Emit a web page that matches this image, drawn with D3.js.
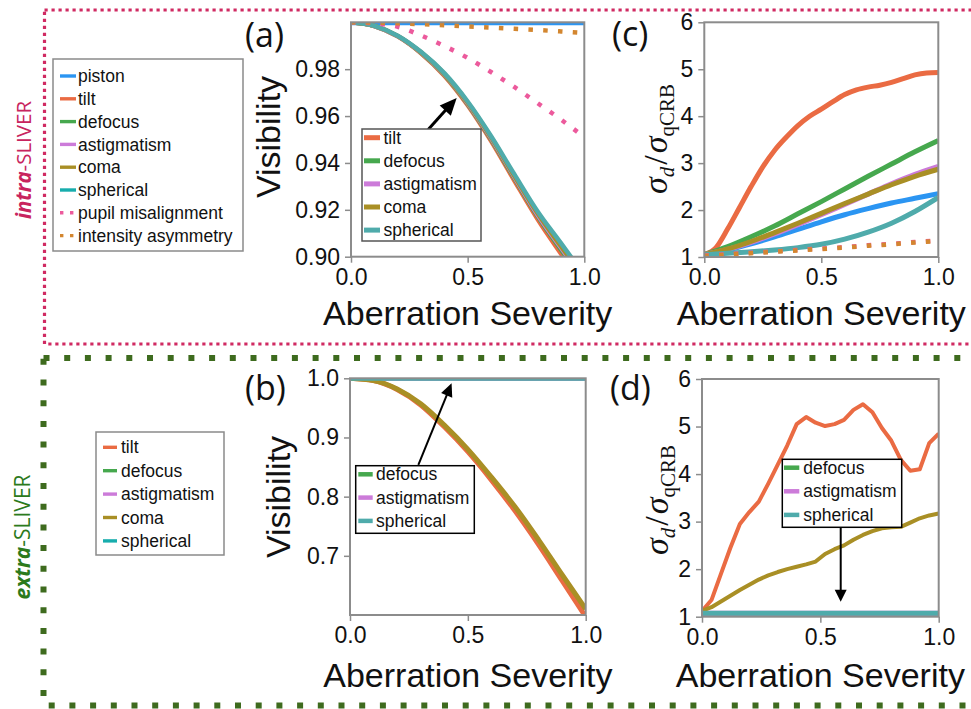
<!DOCTYPE html>
<html><head><meta charset="utf-8">
<script src="https://cdn.jsdelivr.net/npm/d3@7"></script>
<style>body{margin:0;background:#fff}svg{display:block}</style>
</head><body>
<svg id="fig" width="971" height="709"></svg>
<script>
// ---------------- DATA ----------------
const sev10 = [0,0.1,0.2,0.3,0.4,0.5,0.6,0.7,0.8,0.9,1.0];
const sev20 = [0,0.05,0.1,0.15,0.2,0.25,0.3,0.35,0.4,0.45,0.5,0.55,0.6,0.65,0.7,0.75,0.8,0.85,0.9,0.95,1.0];
const sev25 = [0,0.04,0.08,0.12,0.16,0.2,0.24,0.28,0.32,0.36,0.4,0.44,0.48,0.52,0.56,0.6,0.64,0.68,0.72,0.76,0.8,0.84,0.88,0.92,0.96,1.0];

// (a) intra-SLIVER visibility
const aPiston     = [0.9994,0.9994,0.9994,0.9994,0.9994,0.9994,0.9994,0.9994,0.9994,0.9994,0.9994];
const aTilt       = [1.0,0.9984,0.9940,0.9868,0.9772,0.9646,0.9494,0.9325,0.9160,0.9013,0.887];
const aDefocus    = [1.0,0.9984,0.9941,0.9870,0.9776,0.9652,0.9502,0.9335,0.9172,0.9030,0.889];
const aAstig      = [1.0,0.9984,0.9941,0.9871,0.9778,0.9655,0.9506,0.9340,0.9178,0.9038,0.890];
const aComa       = [1.0,0.9985,0.9942,0.9872,0.9780,0.9658,0.9510,0.9345,0.9185,0.9045,0.891];
const aSpherical  = [1.0,0.9985,0.9943,0.9874,0.9783,0.9662,0.9515,0.9352,0.9193,0.9058,0.892];
const aPupil      = [1.0,0.9995,0.9981,0.9944,0.9899,0.9848,0.9788,0.9724,0.9655,0.9585,0.951];
const aIntensity  = [1.0,0.9999,0.9996,0.9992,0.9987,0.9982,0.9977,0.9972,0.9967,0.9961,0.9955];

// (c) intra-SLIVER sigma ratio
const cPiston     = [1.05,1.15,1.28,1.43,1.59,1.75,1.90,2.03,2.15,2.25,2.35];
const cTilt       = [1.05,1.2,1.6,2.05,2.5,2.92,3.27,3.55,3.8,4.0,4.15,4.31,4.46,4.56,4.62,4.66,4.72,4.8,4.88,4.92,4.93];
const cDefocus    = [1.05,1.22,1.43,1.66,1.92,2.18,2.45,2.72,2.98,3.24,3.48];
const cAstig      = [1.05,1.16,1.31,1.49,1.69,1.90,2.12,2.34,2.56,2.76,2.93];
const cComa       = [1.05,1.17,1.33,1.52,1.72,1.93,2.14,2.34,2.54,2.72,2.87];
const cSpherical  = [1.05,1.08,1.11,1.15,1.20,1.27,1.38,1.53,1.72,1.97,2.27];
const cPupil      = [1.03,1.06,1.09,1.12,1.15,1.18,1.21,1.25,1.28,1.32,1.35];
const cIntensity  = [1.02,1.05,1.08,1.11,1.14,1.17,1.20,1.24,1.27,1.31,1.34];

// (b) extra-SLIVER visibility
const bTilt       = [1.0,0.996,0.981,0.955,0.918,0.876,0.828,0.776,0.719,0.658,0.597];
const bDefocus    = [0.9985,0.9985,0.9985,0.9985,0.9985,0.9985,0.9985,0.9985,0.9985,0.9985,0.9985];
const bAstig      = [0.9985,0.9985,0.9985,0.9985,0.9985,0.9985,0.9985,0.9985,0.9985,0.9985,0.9985];
const bComa       = [1.0,0.996,0.982,0.957,0.921,0.880,0.833,0.783,0.727,0.668,0.610];
const bSpherical  = [0.9985,0.9985,0.9985,0.9985,0.9985,0.9985,0.9985,0.9985,0.9985,0.9985,0.9985];

// (d) extra-SLIVER sigma ratio
const dTilt       = [1.12,1.35,1.9,2.45,2.95,3.2,3.42,3.8,4.2,4.6,5.05,5.2,5.08,5.01,5.05,5.14,5.35,5.47,5.3,4.97,4.7,4.3,4.07,4.1,4.65,4.85];
const dDefocus    = [1.06,1.06,1.06,1.06,1.06,1.06,1.06,1.06,1.06,1.06,1.06];
const dAstig      = [1.07,1.07,1.07,1.07,1.07,1.07,1.07,1.07,1.07,1.07,1.07];
const dComa       = [1.12,1.2,1.32,1.44,1.56,1.67,1.78,1.87,1.94,2.0,2.05,2.1,2.16,2.32,2.42,2.5,2.62,2.72,2.8,2.86,2.88,2.89,2.98,3.07,3.13,3.17];
const dSpherical  = [1.075,1.075,1.075,1.075,1.075,1.075,1.075,1.075,1.075,1.075,1.075];

// tick values / labels
const xTicks = [0, 0.5, 1.0];
const visTicksA = [0.90,0.92,0.94,0.96,0.98];
const visTicksB = [0.7,0.8,0.9,1.0];
const ratioTicks = [1,2,3,4,5,6];
const legendTopNames = ["piston","tilt","defocus","astigmatism","coma","spherical","pupil misalignment","intensity asymmetry"];
const legendBotNames = ["tilt","defocus","astigmatism","coma","spherical"];
const legendANames = ["tilt","defocus","astigmatism","coma","spherical"];
const legendBDNames = ["defocus","astigmatism","spherical"];

// ---------------- STYLE ----------------
const COL = {piston:"#2b95f2", tilt:"#ea6b43", defocus:"#46a84e", astigmatism:"#cc7bd9",
  coma:"#a98f25", spherical:"#4fabab", "pupil misalignment":"#ec5a9c", "intensity asymmetry":"#d3862f"};
const LCOL = Object.assign({}, COL, {spherical:"#17adad"});
const DOTTED = new Set(["pupil misalignment","intensity asymmetry"]);
const SANS = "'Liberation Sans', Arial, Helvetica, sans-serif";

const svg = d3.select("#fig");

// ---------------- BORDERS ----------------
svg.append("rect").attr("x",44.5).attr("y",10).attr("width",960).attr("height",334)
  .attr("fill","none").attr("stroke","#d02a62").attr("stroke-width",3.2).attr("stroke-dasharray","3.2,3.8");
svg.append("rect").attr("x",43.5).attr("y",358).attr("width",960).attr("height",347.5)
  .attr("fill","none").attr("stroke","#3e6b1e").attr("stroke-width",6).attr("stroke-dasharray","6,14.7");

// side labels
svg.append("text").attr("transform","translate(31,160) rotate(-90)").attr("text-anchor","middle")
  .attr("font-family","'Open Sans', sans-serif").attr("font-size",20.5).attr("fill","#c8245e")
  .call(t=>{t.append("tspan").attr("font-weight","bold").attr("font-style","italic").text("intra");
            t.append("tspan").text("-SLIVER");});
svg.append("text").attr("transform","translate(30,537) rotate(-90)").attr("text-anchor","middle")
  .attr("font-family","'Open Sans', sans-serif").attr("font-size",21).attr("fill","#2c7a1c")
  .call(t=>{t.append("tspan").attr("font-weight","bold").attr("font-style","italic").text("extra");
            t.append("tspan").text("-SLIVER");});

// ---------------- PANEL ----------------
let clipN = 0;
function panel(cfg){
  const x = d3.scaleLinear().domain([0,1]).range([cfg.x0,cfg.x1]);
  const y = d3.scaleLinear().domain(cfg.yDomain).range([cfg.y1,cfg.y0]);
  const g = svg.append("g");
  const id = "clip"+(clipN++);
  g.append("clipPath").attr("id",id).append("rect")
    .attr("x",cfg.x0).attr("y",cfg.y0).attr("width",cfg.x1-cfg.x0).attr("height",cfg.y1-cfg.y0);
  const lg = g.append("g").attr("clip-path",`url(#${id})`);
  cfg.series.forEach(s=>{
    const line = d3.line().x(d=>x(d[0])).y(d=>y(d[1])).curve(cfg.curve||d3.curveMonotoneX);
    const p = lg.append("path").datum(d3.zip(s.xs,s.v)).attr("d",line)
      .attr("fill","none").attr("stroke",COL[s.name]).attr("stroke-width",s.w||cfg.lw)
      .attr("stroke-linejoin","round");
    if (DOTTED.has(s.name)) p.attr("stroke-dasharray","4.5,10.3").attr("stroke-width",4.5);
    else p.attr("stroke-linecap","butt");
  });
  // frame
  g.append("rect").attr("x",cfg.x0).attr("y",cfg.y0).attr("width",cfg.x1-cfg.x0).attr("height",cfg.y1-cfg.y0)
    .attr("fill","none").attr("stroke","#8c8c8c").attr("stroke-width",2);
  // axes
  const ax = g.append("g").attr("transform",`translate(${cfg.x0},0)`)
    .call(d3.axisLeft(y).tickValues(cfg.yTicks).tickFormat(cfg.yFmt).tickSize(6).tickPadding(5));
  const bx = g.append("g").attr("transform",`translate(0,${cfg.y1})`)
    .call(d3.axisBottom(x).tickValues(xTicks).tickFormat(d3.format(".1f")).tickSize(6).tickPadding(6));
  [ax,bx].forEach(a=>{
    a.select(".domain").remove();
    a.selectAll(".tick line").attr("stroke","#8c8c8c").attr("stroke-width",1.5);
    a.selectAll(".tick text").attr("font-family",SANS).attr("font-size",23).attr("fill","#111");
  });
  // x label
  g.append("text").attr("x",(cfg.x0+cfg.x1)/2).attr("y",cfg.xlabY).attr("text-anchor","middle")
    .attr("font-family",SANS).attr("font-size",34).attr("fill","#111").text("Aberration Severity");
  // panel tag
  g.append("text").attr("x",cfg.tagX).attr("y",cfg.tagY).attr("font-family","'Open Sans', sans-serif")
    .attr("font-size",34).attr("fill","#111").text(cfg.tag);
  // y label
  if (cfg.ylab === "vis") {
    g.append("text").attr("transform",`translate(${cfg.ylabX},${cfg.ylabY}) rotate(-90)`).attr("text-anchor","middle")
      .attr("font-family",SANS).attr("font-size",34).attr("fill","#111").text("Visibility");
  } else {
    const t = g.append("text").attr("transform",`translate(${cfg.ylabX},${cfg.ylabY}) rotate(-90)`)
      .attr("text-anchor","middle").attr("font-family","'Liberation Serif', 'DejaVu Serif', serif").attr("fill","#111");
    t.append("tspan").attr("font-style","italic").attr("font-size",34).text("σ");
    t.append("tspan").attr("font-style","italic").attr("font-size",21).attr("dy",7).text("d");
    t.append("tspan").attr("font-size",34).attr("dy",-7).attr("dx",2).text("/");
    t.append("tspan").attr("font-style","italic").attr("font-size",34).attr("dx",2).text("σ");
    t.append("tspan").attr("font-size",21).attr("dy",7).text("qCRB");
  }
  return {x,y,g};
}

function arrow(g, p0, p1, hl, hw, lw){
  const dx=p1[0]-p0[0], dy=p1[1]-p0[1], L=Math.hypot(dx,dy), ux=dx/L, uy=dy/L;
  const bx=p1[0]-ux*hl, by=p1[1]-uy*hl;
  g.append("line").attr("x1",p0[0]).attr("y1",p0[1]).attr("x2",bx+ux*1).attr("y2",by+uy*1)
    .attr("stroke","#000").attr("stroke-width",lw);
  g.append("polygon").attr("points",[[p1[0],p1[1]],[bx-uy*hw/2,by+ux*hw/2],[bx+uy*hw/2,by-ux*hw/2]].map(p=>p.join(",")).join(" "))
    .attr("fill","#000");
}

function legend(box, names, rowY0, rowDy, lineX0, lineX1, textX, lw, colors, stroke, dotted){
  const g = svg.append("g");
  g.append("rect").attr("x",box[0]).attr("y",box[1]).attr("width",box[2]).attr("height",box[3])
    .attr("fill","#fff").attr("stroke",stroke).attr("stroke-width",1.5);
  names.forEach((n,i)=>{
    const yy = rowY0 + i*rowDy;
    const l = g.append("line").attr("x1",lineX0).attr("x2",lineX1).attr("y1",yy).attr("y2",yy)
      .attr("stroke",colors[n]).attr("stroke-width",lw);
    if (dotted && DOTTED.has(n)) l.attr("stroke-dasharray","3.4,6.6").attr("stroke-width",3.4);
    g.append("text").attr("x",textX).attr("y",yy).attr("dy","0.35em").attr("font-family",SANS)
      .attr("font-size",17.5).attr("fill","#111").text(n);
  });
}

// ---------------- (a) ----------------
const A = panel({x0:351,x1:584.3,y0:22.3,y1:256.7,yDomain:[0.9,1.0],yTicks:visTicksA,yFmt:d3.format(".2f"),
  lw:4.5, xlabY:325, tag:"(a)", tagX:245, tagY:47, ylab:"vis", ylabX:280, ylabY:137,
  series:[{name:"piston",xs:sev10,v:aPiston,w:3},{name:"tilt",xs:sev10,v:aTilt},{name:"defocus",xs:sev10,v:aDefocus},
    {name:"astigmatism",xs:sev10,v:aAstig},{name:"coma",xs:sev10,v:aComa},{name:"spherical",xs:sev10,v:aSpherical},
    {name:"pupil misalignment",xs:sev10,v:aPupil},{name:"intensity asymmetry",xs:sev10,v:aIntensity}]});
arrow(A.g,[A.x(0.331),A.y(0.9543)],[A.x(0.453),A.y(0.9677)],17,15,3);
legend([362,129,119,112], legendANames, 137.7, 23.1, 364, 380, 383.5, 5, COL, "#555", false);

// ---------------- (c) ----------------
const C = panel({x0:704.3,x1:938.3,y0:22.3,y1:257,yDomain:[1,6],yTicks:ratioTicks,yFmt:d3.format("d"),
  lw:5, xlabY:325, tag:"(c)", tagX:612, tagY:46, ylab:"ratio", ylabX:667, ylabY:139,
  series:[{name:"piston",xs:sev10,v:cPiston},{name:"tilt",xs:sev20,v:cTilt},{name:"defocus",xs:sev10,v:cDefocus},
    {name:"astigmatism",xs:sev10,v:cAstig},{name:"coma",xs:sev10,v:cComa},{name:"spherical",xs:sev10,v:cSpherical},
    {name:"pupil misalignment",xs:sev10,v:cPupil},{name:"intensity asymmetry",xs:sev10,v:cIntensity}]});

// ---------------- (b) ----------------
const B = panel({x0:350,x1:585.7,y0:378.3,y1:615,yDomain:[0.6,1.0],yTicks:visTicksB,yFmt:d3.format(".1f"),
  lw:5, xlabY:687, tag:"(b)", tagX:245, tagY:400, ylab:"vis", ylabX:290, ylabY:497,
  series:[{name:"tilt",xs:sev10,v:bTilt},{name:"defocus",xs:sev10,v:bDefocus,w:3},{name:"astigmatism",xs:sev10,v:bAstig,w:3},
    {name:"coma",xs:sev10,v:bComa},{name:"spherical",xs:sev10,v:bSpherical,w:3}]});
arrow(B.g,[B.x(0.29),B.y(0.8535)],[B.x(0.431),B.y(0.9915)],13,12,2);
legend([355.7,465.7,118.6,67.6], legendBDNames, 474.3, 23.3, 358.3, 372.7, 376, 4.5, COL, "#000", false);

// ---------------- (d) ----------------
const D = panel({x0:702,x1:938.7,y0:379,y1:616.7,yDomain:[1,6],yTicks:ratioTicks,yFmt:d3.format("d"),
  lw:4, xlabY:687, tag:"(d)", tagX:610, tagY:400, ylab:"ratio", ylabX:668, ylabY:500, curve:d3.curveLinear,
  series:[{name:"tilt",xs:sev25,v:dTilt},{name:"defocus",xs:sev10,v:dDefocus,w:5},{name:"astigmatism",xs:sev10,v:dAstig,w:5},
    {name:"coma",xs:sev25,v:dComa},{name:"spherical",xs:sev10,v:dSpherical,w:5}]});
legend([782.3,459.3,119.4,68], legendBDNames, 467.7, 23.6, 784, 799.3, 803.3, 4.5, COL, "#000", false);
arrow(D.g,[D.x(0.586),D.y(2.895)],[D.x(0.586),D.y(1.316)],12,12,2);

// ---------------- side legends ----------------
legend([53,59,190,192], legendTopNames, 76, 22.8, 60, 76, 78, 3.4, LCOL, "#8a8a8a", true);
legend([96,432,128,123], legendBotNames, 447.3, 23.4, 103, 117, 121, 3.4, LCOL, "#8a8a8a", false);
</script>
</body></html>
